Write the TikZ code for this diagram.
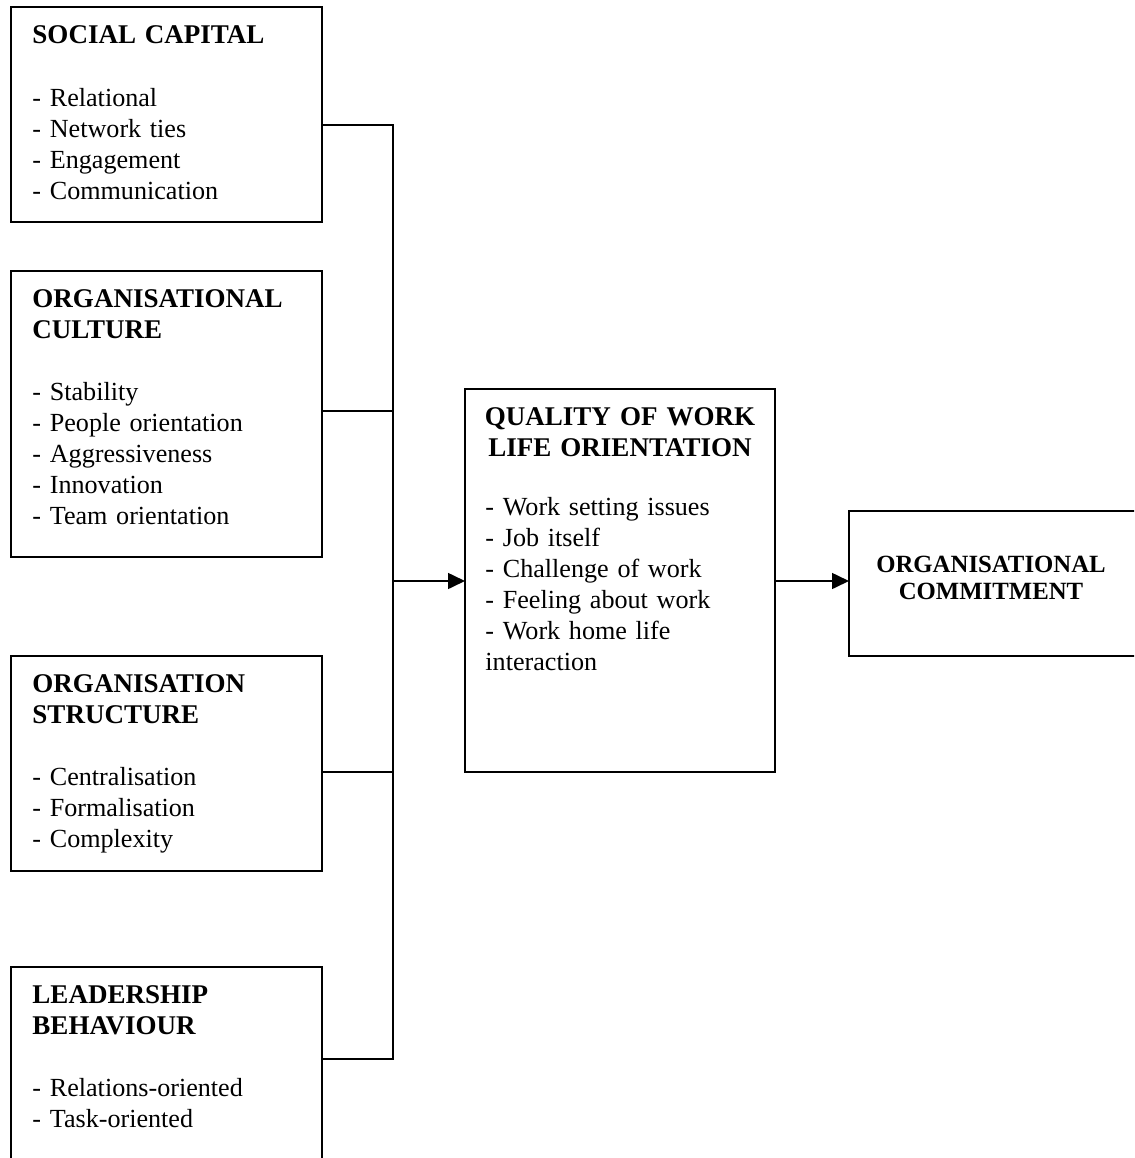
\documentclass[tikz,border=0pt]{standalone}
\usepackage{fontspec}
\setmainfont{Liberation Serif}
\usetikzlibrary{arrows.meta}

\newcommand{\pxu}{0.444pt}
\newcommand{\boxhd}[1]{{\fontsize{12}{13.8}\selectfont\bfseries #1}}

\tikzset{
  box/.style={draw, line width=0.9pt, anchor=north west, inner sep=0pt, outer sep=0pt},
  boxtext/.style={anchor=base west, inner sep=0pt, align=left, text width=270*\pxu,
    font=\fontsize{11.6}{13.8}\selectfont},
  boxhead/.style={anchor=base, inner sep=0pt, align=center, text width=290*\pxu,
    font=\fontsize{12}{13.8}\selectfont\bfseries},
  link/.style={line width=0.9pt},
  arr/.style={link, -{Triangle[length=7.5pt,width=7pt]}}
}

\begin{document}
\begin{tikzpicture}[x=\pxu, y=-\pxu]
    \clip (0,0) rectangle (1134,1158);

    % Left column of boxes
    \node[box, minimum width={311*\pxu}, minimum height={215*\pxu}] (sc) at (11,7) {};
    \node[boxtext] (sctext) at (32,44) {\boxhd{SOCIAL CAPITAL}\\[13.8pt]
      - Relational\\ - Network ties\\ - Engagement\\ - Communication};

    \node[box, minimum width={311*\pxu}, minimum height={286*\pxu}] (oc) at (11,271) {};
    \node[boxtext] (octext) at (32,307) {\boxhd{ORGANISATIONAL}\\ \boxhd{CULTURE}\\[13.8pt]
      - Stability\\ - People orientation\\ - Aggressiveness\\ - Innovation\\ - Team orientation};

    \node[box, minimum width={311*\pxu}, minimum height={215*\pxu}] (os) at (11,656) {};
    \node[boxtext] (ostext) at (32,692) {\boxhd{ORGANISATION}\\ \boxhd{STRUCTURE}\\[13.8pt]
      - Centralisation\\ - Formalisation\\ - Complexity};

    \node[box, minimum width={311*\pxu}, minimum height={230*\pxu}] (lb) at (11,967) {};
    \node[boxtext] (lbtext) at (32,1003) {\boxhd{LEADERSHIP}\\ \boxhd{BEHAVIOUR}\\[13.8pt]
      - Relations-oriented\\ - Task-oriented};

    % Middle box
    \node[box, minimum width={310*\pxu}, minimum height={383*\pxu}] (qw) at (465,389) {};
    \node[boxhead] (qwhead) at (620,425) {QUALITY OF WORK\\LIFE ORIENTATION};
    \node[boxtext] (qwtext) at (485,515) {- Work setting issues\\ - Job itself\\
      - Challenge of work\\ - Feeling about work\\ - Work home life\\ interaction};

    % Right box
    \node[box, minimum width={300*\pxu}, minimum height={145*\pxu}] (cm) at (849,511) {};
    \node[boxhead, font=\fontsize{11}{12.1}\selectfont\bfseries] (cmhead) at (991,572)
      {ORGANISATIONAL\\COMMITMENT};

    % Joining line
    \coordinate (j1) at (393,125);
    \coordinate (j2) at (393,411);
    \coordinate (j3) at (393,772);
    \coordinate (j4) at (393,1059);
    \coordinate (jm) at (393,581);

    \draw[link] (sc.east |- j1) -- (j1) -- (j4) -- (lb.east |- j4);
    \draw[link] (oc.east |- j2) -- (j2);
    \draw[link] (os.east |- j3) -- (j3);

    % Arrows
    \draw[arr] (jm) -- (qw.west |- jm);
    \draw[arr] (qw.east |- jm) -- (cm.west |- jm);
\end{tikzpicture}
\end{document}
